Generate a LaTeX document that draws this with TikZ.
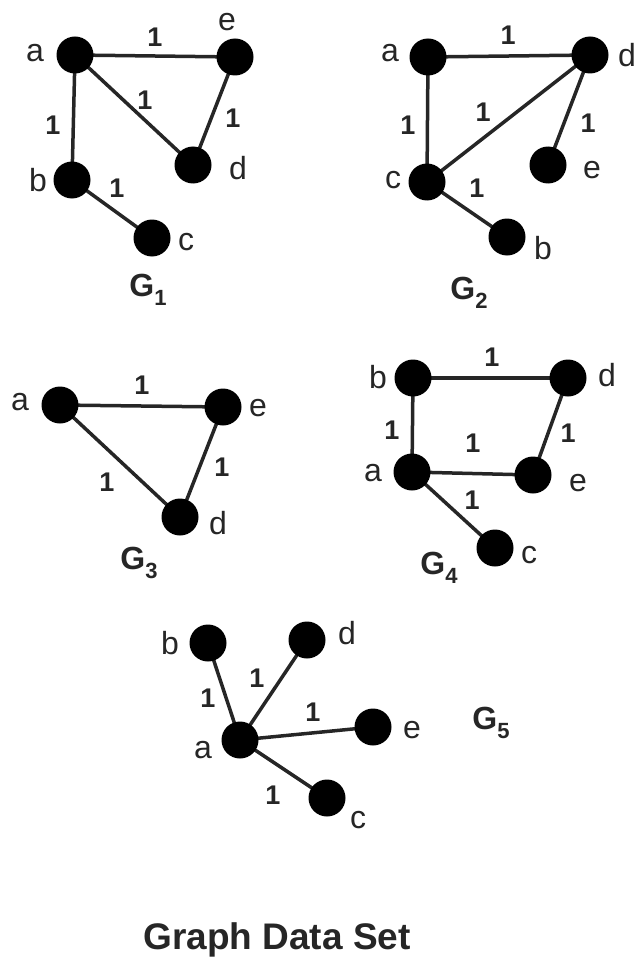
\documentclass[tikz,border=0pt]{standalone}
\usepackage{fontspec}
\setmainfont{Liberation Sans}
\newcommand{\gsubname}[1]{G\raisebox{-0.3em}{\fontsize{22}{22}\selectfont #1}}
\pgfdeclarelayer{bg}
\pgfsetlayers{bg,main}
\begin{document}
\begin{tikzpicture}[x=1pt,y=-1pt,
 vtx/.style={circle,fill=black,minimum size=37pt,inner sep=0pt},
 edge/.style={line width=3.5pt,black!85},
 lbl/.style={font=\fontsize{32}{32}\selectfont, inner sep=0pt, text=black!85},
 wt/.style={font=\bfseries\fontsize{27}{27}\selectfont, inner sep=0pt, text=black!85},
 gname/.style={font=\bfseries\fontsize{32}{32}\selectfont, inner sep=0pt, text=black!85}]
\useasboundingbox (0,0) rectangle (638,960);

% ---------- G1 ----------
\node[vtx] (g1a) at (75,55) {};
\node[vtx] (g1e) at (235,57) {};
\node[vtx] (g1d) at (193,165) {};
\node[vtx] (g1b) at (72,180) {};
\node[vtx] (g1c) at (152,238) {};
\begin{pgfonlayer}{bg}
\draw[edge] (g1a.center) -- (g1e.center);
\draw[edge] (g1a.center) -- (g1d.center);
\draw[edge] (g1e.center) -- (g1d.center);
\draw[edge] (g1a.center) -- (g1b.center);
\draw[edge] (g1b.center) -- (g1c.center);
\end{pgfonlayer}
\node[lbl] (l1a) at (35,53) {a};
\node[lbl] (l1e) at (227,22) {e};
\node[lbl] (l1d) at (238,168) {d};
\node[lbl] (l1b) at (38,180) {b};
\node[lbl] (l1c) at (186,242) {c};
\node[wt] (w1ae) at (155,37) {1};
\node[wt] (w1ad) at (145,100) {1};
\node[wt] (w1ed) at (233,118) {1};
\node[wt] (w1ab) at (53,125) {1};
\node[wt] (w1bc) at (117,188) {1};
\node[gname] (n1) at (148,290) {\gsubname{1}};

% ---------- G2 ----------
\node[vtx] (g2a) at (428,57) {};
\node[vtx] (g2d) at (590,55) {};
\node[vtx] (g2e) at (548,165) {};
\node[vtx] (g2c) at (427,182) {};
\node[vtx] (g2b) at (507,237) {};
\begin{pgfonlayer}{bg}
\draw[edge] (g2a.center) -- (g2d.center);
\draw[edge] (g2c.center) -- (g2d.center);
\draw[edge] (g2d.center) -- (g2e.center);
\draw[edge] (g2a.center) -- (g2c.center);
\draw[edge] (g2c.center) -- (g2b.center);
\end{pgfonlayer}
\node[lbl] (l2a) at (390,53) {a};
\node[lbl] (l2d) at (627,55) {d};
\node[lbl] (l2e) at (592,170) {e};
\node[lbl] (l2c) at (393,180) {c};
\node[lbl] (l2b) at (543,248) {b};
\node[wt] (w2ad) at (508,35) {1};
\node[wt] (w2cd) at (483,112) {1};
\node[wt] (w2de) at (588,123) {1};
\node[wt] (w2ac) at (408,125) {1};
\node[wt] (w2cb) at (477,188) {1};
\node[gname] (n2) at (469,293) {\gsubname{2}};

% ---------- G3 ----------
\node[vtx] (g3a) at (60,405) {};
\node[vtx] (g3e) at (223,407) {};
\node[vtx] (g3d) at (180,517) {};
\begin{pgfonlayer}{bg}
\draw[edge] (g3a.center) -- (g3e.center);
\draw[edge] (g3a.center) -- (g3d.center);
\draw[edge] (g3e.center) -- (g3d.center);
\end{pgfonlayer}
\node[lbl] (l3a) at (20,402) {a};
\node[lbl] (l3e) at (258,408) {e};
\node[lbl] (l3d) at (218,523) {d};
\node[wt] (w3ae) at (142,385) {1};
\node[wt] (w3ad) at (107,482) {1};
\node[wt] (w3ed) at (222,467) {1};
\node[gname] (n3) at (139,563) {\gsubname{3}};

% ---------- G4 ----------
\node[vtx] (g4b) at (413,378) {};
\node[vtx] (g4d) at (568,378) {};
\node[vtx] (g4a) at (412,472) {};
\node[vtx] (g4e) at (533,475) {};
\node[vtx] (g4c) at (495,548) {};
\begin{pgfonlayer}{bg}
\draw[edge] (g4b.center) -- (g4d.center);
\draw[edge] (g4b.center) -- (g4a.center);
\draw[edge] (g4a.center) -- (g4e.center);
\draw[edge] (g4d.center) -- (g4e.center);
\draw[edge] (g4a.center) -- (g4c.center);
\end{pgfonlayer}
\node[lbl] (l4b) at (378,377) {b};
\node[lbl] (l4d) at (607,375) {d};
\node[lbl] (l4a) at (373,473) {a};
\node[lbl] (l4e) at (578,483) {e};
\node[lbl] (l4c) at (529,555) {c};
\node[wt] (w4bd) at (492,357) {1};
\node[wt] (w4ba) at (392,430) {1};
\node[wt] (w4ae) at (473,443) {1};
\node[wt] (w4de) at (568,433) {1};
\node[wt] (w4ac) at (472,500) {1};
\node[gname] (n4) at (439,568) {\gsubname{4}};

% ---------- G5 ----------
\node[vtx] (g5a) at (240,740) {};
\node[vtx] (g5b) at (208,643) {};
\node[vtx] (g5d) at (307,640) {};
\node[vtx] (g5e) at (373,727) {};
\node[vtx] (g5c) at (327,798) {};
\begin{pgfonlayer}{bg}
\draw[edge] (g5a.center) -- (g5b.center);
\draw[edge] (g5a.center) -- (g5d.center);
\draw[edge] (g5a.center) -- (g5e.center);
\draw[edge] (g5a.center) -- (g5c.center);
\end{pgfonlayer}
\node[lbl] (l5b) at (170,643) {b};
\node[lbl] (l5d) at (347,633) {d};
\node[lbl] (l5a) at (203,750) {a};
\node[lbl] (l5e) at (412,730) {e};
\node[lbl] (l5c) at (358,820) {c};
\node[wt] (w5ab) at (208,698) {1};
\node[wt] (w5ad) at (257,678) {1};
\node[wt] (w5ae) at (313,712) {1};
\node[wt] (w5ac) at (273,795) {1};
\node[gname] (n5) at (491,723) {\gsubname{5}};

% ---------- title ----------
\node[font=\bfseries\fontsize{37}{37}\selectfont, inner sep=0pt, text=black!85] (title) at (277,940) {Graph Data Set};
\end{tikzpicture}
\end{document}
